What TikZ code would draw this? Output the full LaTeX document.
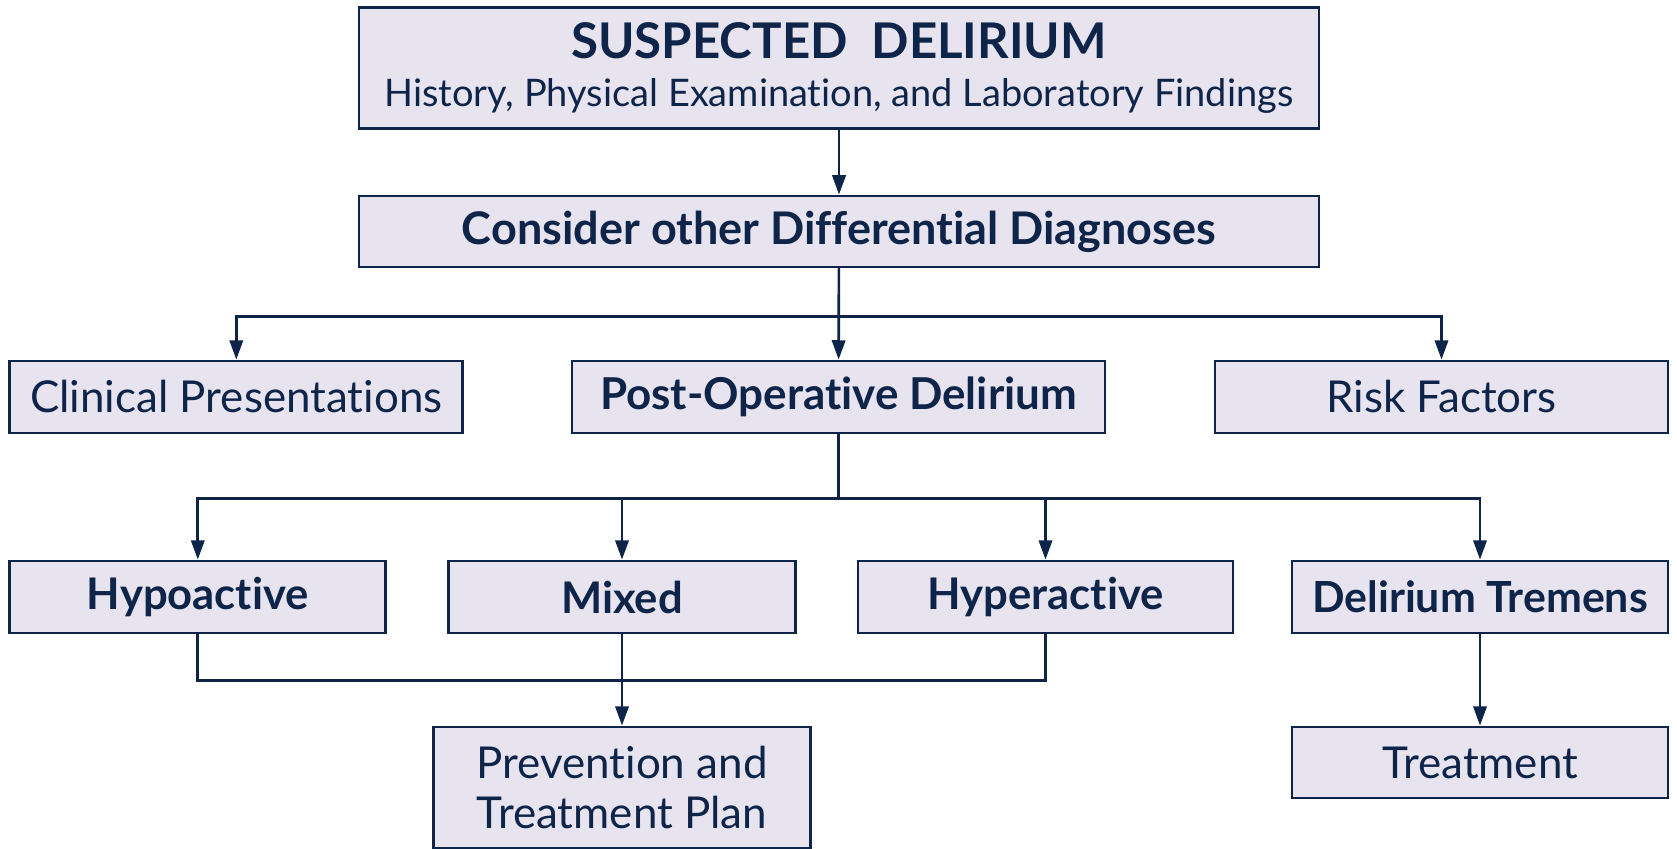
\documentclass[tikz,border=0pt]{standalone}
\usepackage{fontspec}
\setmainfont{Lato}[Ligatures=NoCommon]
\usepackage{xcolor}
\usepackage{tikz}
\usetikzlibrary{positioning,arrows.meta}

\definecolor{navy}{RGB}{14,36,72}
\definecolor{lav}{RGB}{231,228,240}

\begin{document}
\begin{tikzpicture}[
    box/.style={rectangle, draw=navy, line width=0.8pt, fill=lav, text=navy, align=center, inner sep=0pt, minimum height=0.72cm, font=\fontsize{12.5}{14.5}\selectfont},
    arrow/.style={-{Triangle[length=5.5pt, width=3.8pt]}, navy, line width=0.75pt},
    link/.style={navy, line width=0.75pt}
]
\useasboundingbox (0,0) rectangle (16.77,8.49);

% Top - suspected delirium
\node[box, minimum width=9.6cm, minimum height=1.21cm] (suspect) at (8.39,7.81) {{\fontsize{14}{16}\selectfont\bfseries SUSPECTED\ \ DELIRIUM}\\[-0.6pt]
{\fontsize{10.8}{13}\selectfont History, Physical Examination, and Laboratory Findings}};

\node[box, minimum width=9.6cm, minimum height=0.71cm, font=\fontsize{12.8}{15}\selectfont\bfseries] (diff) at (8.39,6.175) {Consider other Differential Diagnoses};

% Second row
\node[box, minimum width=4.53cm] (clinical) at (2.363,4.52) {Clinical Presentations};
\node[box, minimum width=5.33cm, font=\fontsize{12.5}{14.5}\selectfont\bfseries] (postop) at (8.385,4.52) {Post-Operative Delirium};
\node[box, minimum width=4.53cm] (risk) at (14.415,4.52) {Risk Factors};

% Third row - subtypes
\node[box, minimum width=3.76cm, font=\fontsize{12.4}{14.5}\selectfont\bfseries] (hypo) at (1.978,2.52) {Hypoactive};
\node[box, minimum width=3.47cm, font=\fontsize{12.4}{14.5}\selectfont\bfseries] (mixed) at (6.22,2.52) {Mixed};
\node[box, minimum width=3.75cm, font=\fontsize{12.4}{14.5}\selectfont\bfseries] (hyper) at (10.455,2.52) {Hyperactive};
\node[box, minimum width=3.76cm, font=\fontsize{12.2}{14.5}\selectfont\bfseries] (tremens) at (14.8,2.52) {Delirium Tremens};

% Bottom row
\node[box, minimum width=3.77cm, minimum height=1.21cm] (plan) at (6.22,0.615) {Prevention and\\Treatment Plan};
\node[box, minimum width=3.76cm, minimum height=0.71cm] (treat) at (14.8,0.865) {Treatment};

% Connectors
\draw[arrow] (suspect) -- (diff);
\draw[arrow] (diff.south) -- ++(0,-0.48) -| (clinical.north);
\draw[arrow] (diff.south) -- ++(0,-0.48) -| (risk.north);
\draw[arrow] (diff) -- (postop);

\draw[arrow] (postop.south) -- ++(0,-0.64) -| (hypo.north);
\draw[arrow] (postop.south) -- ++(0,-0.64) -| (mixed.north);
\draw[arrow] (postop.south) -- ++(0,-0.64) -| (hyper.north);
\draw[arrow] (postop.south) -- ++(0,-0.64) -| (tremens.north);

\draw[link] (hypo.south) -- ++(0,-0.46) -| (hyper.south);
\draw[arrow] (mixed) -- (plan);
\draw[arrow] (tremens) -- (treat);

\end{tikzpicture}
\end{document}
